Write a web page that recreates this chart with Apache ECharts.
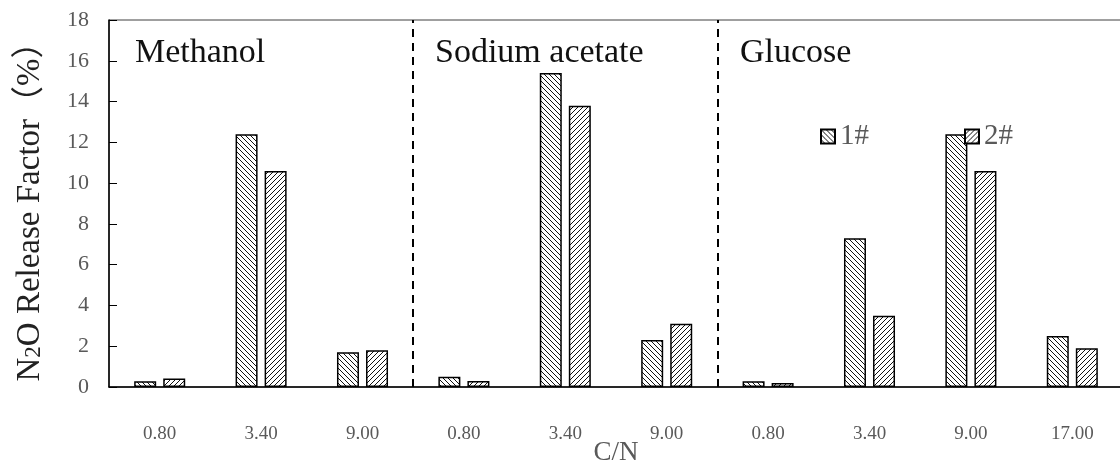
<!DOCTYPE html>
<html>
<head>
<meta charset="utf-8">
<script src="https://cdn.jsdelivr.net/npm/echarts@6/dist/echarts.min.js"></script>
<style>
html,body{margin:0;padding:0;background:#fff;}
#chart{width:1120px;height:466px;}
</style>
</head>
<body>
<div id="chart"></div>
<script>
// ---- data ----
var categories = ['0.80','3.40','9.00','0.80','3.40','9.00','0.80','3.40','9.00','17.00'];
var groups = ['Methanol','Sodium acetate','Glucose'];
var seriesNames = ['1#','2#'];
var series1 = [0.28, 12.4, 1.7, 0.5, 15.4, 2.3, 0.28, 7.3, 12.4, 2.5];
var series2 = [0.42, 10.6, 1.8, 0.3, 13.8, 3.1, 0.2, 3.5, 10.6, 1.9];
var groupBoundaries = [3, 6];
var yTicks = {min: 0, max: 18, interval: 2};

function hatch(dir) {
  var s = 5;
  var c = document.createElement('canvas');
  c.width = s; c.height = s;
  var g = c.getContext('2d');
  g.fillStyle = '#fff';
  g.fillRect(0, 0, s, s);
  g.strokeStyle = '#111';
  g.lineWidth = 1;
  g.beginPath();
  if (dir === 'back') {
    g.moveTo(-1, -1); g.lineTo(s + 1, s + 1);
    g.moveTo(-1, s - 1); g.lineTo(1, s + 1);
    g.moveTo(s - 1, -1); g.lineTo(s + 1, 1);
  } else {
    g.moveTo(-1, s + 1); g.lineTo(s + 1, -1);
    g.moveTo(-1, 1); g.lineTo(1, -1);
    g.moveTo(s - 1, s + 1); g.lineTo(s + 1, s - 1);
  }
  g.stroke();
  return c;
}

var serif = '"Liberation Serif", "Times New Roman", serif';
var chart = echarts.init(document.getElementById('chart'), null, {renderer: 'canvas'});

var option = {
  animation: false,
  backgroundColor: '#fff',
  grid: {left: 109, right: -3, top: 20, bottom: 79, show: true, borderColor: '#404040', borderWidth: 1, containLabel: false, outerBoundsMode: 'none'},
  legend: {
    data: seriesNames,
    left: 815, top: 117,
    itemWidth: 14, itemHeight: 14, itemGap: 95,
    icon: 'rect',
    textStyle: {fontFamily: serif, fontSize: 29, color: '#595959'}
  },
  xAxis: [{
    type: 'category',
    data: categories,
    name: 'C/N',
    nameLocation: 'middle',
    nameGap: 66,
    nameMoveOverlap: false,
    nameTextStyle: {fontFamily: serif, fontSize: 27, color: '#595959', verticalAlign: 'middle'},
    axisLine: {lineStyle: {color: '#000', width: 1.5}},
    axisTick: {inside: true, length: 6, lineStyle: {color: '#000'}},
    axisLabel: {fontFamily: serif, fontSize: 19, color: '#595959', margin: 38, interval: 0}
  }, {
    type: 'value', min: 0, max: categories.length, show: false
  }],
  yAxis: {
    type: 'value',
    min: yTicks.min, max: yTicks.max, interval: yTicks.interval,
    name: '{a|N}{s|2}{a|O Release Factor（%）}',
    nameLocation: 'middle',
    nameRotate: 90,
    nameGap: 79,
    nameMoveOverlap: false,
    nameTextStyle: {
      verticalAlign: 'middle',
      rich: {
        a: {fontFamily: serif + ', "Noto Sans CJK SC"', fontSize: 33, color: '#222'},
        s: {fontFamily: serif, fontSize: 23, color: '#222', padding: [8, 0, 0, 0]}
      }
    },
    axisLine: {show: true, lineStyle: {color: '#000', width: 1.5}},
    axisTick: {show: true, inside: true, length: 8, lineStyle: {color: '#000'}},
    splitLine: {show: false},
    axisLabel: {fontFamily: serif, fontSize: 22, color: '#595959', margin: 20}
  },
  series: [{
    name: seriesNames[0],
    type: 'bar',
    data: series1,
    barWidth: 22,
    barGap: '32%',
    itemStyle: {color: {image: hatch('back'), repeat: 'repeat'}, borderColor: '#000', borderWidth: 1.5}
  }, {
    name: seriesNames[1],
    type: 'bar',
    data: series2,
    barWidth: 22,
    barGap: '32%',
    itemStyle: {color: {image: hatch('fwd'), repeat: 'repeat'}, borderColor: '#000', borderWidth: 1.5}
  }, {
    type: 'scatter',
    xAxisIndex: 1,
    data: groupBoundaries.map(function (b) { return [b, 0]; }),
    symbolSize: 0,
    silent: true,
    markLine: {
      silent: true,
      symbol: 'none',
      label: {show: false},
      lineStyle: {color: '#000', type: [8, 6], width: 2},
      data: groupBoundaries.map(function (b) { return {xAxis: b}; })
    }
  }],
  graphic: [
    {type: 'text', left: 135, top: 36, style: {text: groups[0], font: '34px ' + serif, fill: '#111'}},
    {type: 'text', left: 435, top: 36, style: {text: groups[1], font: '34px ' + serif, fill: '#111'}},
    {type: 'text', left: 740, top: 36, style: {text: groups[2], font: '34px ' + serif, fill: '#111'}}
  ]
};
chart.setOption(option);
</script>
</body>
</html>
